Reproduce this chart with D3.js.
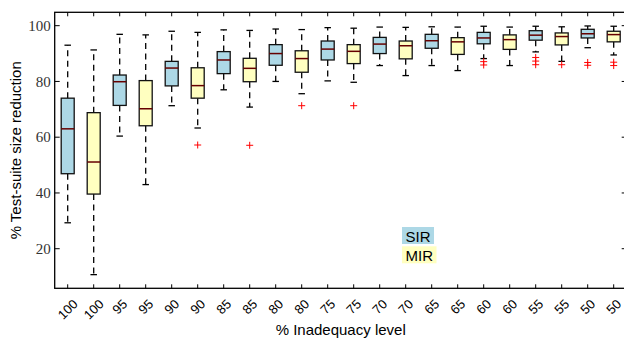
<!DOCTYPE html>
<html lang="en">
<head>
    <meta charset="UTF-8">
    <script type="text/javascript" src="https://d3js.org/d3.v7.min.js"></script>
    <style>
    html,
    body {
        margin: 0;
        background: #fff;
    }
    svg {
        display: block;
    }
    .sans {
        font-family: "Liberation Sans", Arial, sans-serif;
    }
    </style>
    <title>Test-suite size reduction</title>
</head>
<body>

    <div id="chart"></div>

    <script type="text/javascript">

    // data
    var levels = ["100", "100", "95", "95", "90", "90", "85", "85", "80", "80", "75", "75",
                  "70", "70", "65", "65", "60", "60", "55", "55", "50", "50"];
    var groups = ["SIR", "MIR", "SIR", "MIR", "SIR", "MIR", "SIR", "MIR", "SIR", "MIR", "SIR", "MIR",
                  "SIR", "MIR", "SIR", "MIR", "SIR", "MIR", "SIR", "MIR", "SIR", "MIR"];
    var whiskLo = [29.3, 10.7, 60.4, 43.0, 71.3, 63.3, 77.0, 70.8, 80.0, 75.6, 80.2, 79.7,
                   85.7, 82.1, 85.7, 83.9, 88.2, 85.7, 90.6, 87.2, 92.1, 89.5];
    var q1 = [46.9, 39.6, 71.4, 64.1, 78.4, 74.0, 82.8, 79.9, 85.8, 83.3, 87.7, 86.4,
              90.0, 88.1, 91.9, 89.7, 93.5, 91.5, 94.8, 93.1, 95.6, 94.2];
    var medians = [63.0, 51.1, 79.9, 70.2, 84.8, 78.5, 87.7, 84.7, 90.0, 88.2, 91.6, 90.8,
                   93.4, 92.8, 94.6, 94.2, 95.6, 95.0, 96.6, 96.1, 97.1, 96.8];
    var q3 = [74.0, 68.8, 82.3, 80.3, 87.2, 84.9, 90.7, 88.3, 93.2, 91.0, 94.5, 93.2,
              95.8, 94.5, 96.9, 95.7, 97.6, 96.7, 98.2, 97.4, 98.7, 98.0];
    var whiskHi = [93.0, 91.3, 96.9, 96.7, 98.0, 97.6, 98.5, 98.3, 98.8, 98.6, 99.3, 99.1,
                   99.5, 99.4, 99.6, 99.5, 99.8, 99.5, 99.8, 99.6, 99.9, 99.8];
    var outliers = [[], [], [], [], [], [57.2], [], [57.1], [], [71.3], [], [71.3],
                    [], [], [], [], [87.1, 85.9], [], [88.6, 87.3, 86.0], [86.0], [86.8, 85.8], [86.9, 85.7]];
    var yTicks = [20, 40, 60, 80, 100];
    var legendItems = ["SIR", "MIR"];

    var fills = { SIR: "#add8e6", MIR: "#ffffc0" };

    var width = 624, height = 339;
    var plotL = 54.7, plotR = 626.7, plotT = 12.3, plotB = 288.3;

    var svg = d3.select("#chart").append("svg")
        .attr("width", width)
        .attr("height", height);

    var positions = d3.range(1, levels.length + 1);

    var x = d3.scaleLinear().domain([0.5, levels.length + 0.5]).range([plotL, plotR]);
    var y = d3.scaleLinear().domain([5.8, 104.8]).range([plotB, plotT]);

    var boxW = x(1.5) - x(1);
    var capW = boxW / 2;

    var boxes = positions.map(function (p, i) {
        return {
            pos: p, group: groups[i], lo: whiskLo[i], q1: q1[i], med: medians[i],
            q3: q3[i], hi: whiskHi[i], out: outliers[i]
        };
    });

    var g = svg.append("g");

    // whiskers (dashed)
    g.selectAll("line.whisk-lo")
        .data(boxes).enter().append("line")
        .attr("x1", function (d) { return x(d.pos); })
        .attr("x2", function (d) { return x(d.pos); })
        .attr("y1", function (d) { return y(d.q1); })
        .attr("y2", function (d) { return y(d.lo); })
        .attr("stroke", "#000").attr("stroke-width", 1.3)
        .attr("stroke-dasharray", "6,4.5");

    g.selectAll("line.whisk-hi")
        .data(boxes).enter().append("line")
        .attr("x1", function (d) { return x(d.pos); })
        .attr("x2", function (d) { return x(d.pos); })
        .attr("y1", function (d) { return y(d.q3); })
        .attr("y2", function (d) { return y(d.hi); })
        .attr("stroke", "#000").attr("stroke-width", 1.3)
        .attr("stroke-dasharray", "6,4.5");

    // caps
    ["lo", "hi"].forEach(function (k) {
        g.selectAll("line.cap-" + k)
            .data(boxes).enter().append("line")
            .attr("x1", function (d) { return x(d.pos) - capW / 2; })
            .attr("x2", function (d) { return x(d.pos) + capW / 2; })
            .attr("y1", function (d) { return y(d[k]); })
            .attr("y2", function (d) { return y(d[k]); })
            .attr("stroke", "#000").attr("stroke-width", 1.3);
    });

    // boxes
    g.selectAll("rect.box")
        .data(boxes).enter().append("rect")
        .attr("x", function (d) { return x(d.pos) - boxW / 2; })
        .attr("y", function (d) { return y(d.q3); })
        .attr("width", boxW)
        .attr("height", function (d) { return y(d.q1) - y(d.q3); })
        .attr("fill", function (d) { return fills[d.group]; })
        .attr("stroke", "#111").attr("stroke-width", 1.3);

    // medians
    g.selectAll("line.median")
        .data(boxes).enter().append("line")
        .attr("x1", function (d) { return x(d.pos) - boxW / 2; })
        .attr("x2", function (d) { return x(d.pos) + boxW / 2; })
        .attr("y1", function (d) { return y(d.med); })
        .attr("y2", function (d) { return y(d.med); })
        .attr("stroke", "#660000").attr("stroke-width", 1.5);

    // outliers as red pluses
    var flier = [];
    boxes.forEach(function (d) {
        d.out.forEach(function (v) { flier.push({ pos: d.pos, v: v }); });
    });
    g.selectAll("path.flier")
        .data(flier).enter().append("path")
        .attr("d", function (d) {
            var cx = x(d.pos), cy = y(d.v), r = 3.5;
            return "M" + (cx - r) + "," + cy + "H" + (cx + r) + "M" + cx + "," + (cy - r) + "V" + (cy + r);
        })
        .attr("stroke", "#ff0000").attr("stroke-width", 1).attr("fill", "none");

    // frame
    svg.append("rect")
        .attr("x", plotL).attr("y", plotT)
        .attr("width", plotR - plotL).attr("height", plotB - plotT)
        .attr("fill", "none").attr("stroke", "#000").attr("stroke-width", 1.3);

    // inward ticks
    var tk = svg.append("g").attr("stroke", "#000").attr("stroke-width", 1);
    yTicks.forEach(function (t) {
        tk.append("line").attr("x1", plotL).attr("x2", plotL + 5).attr("y1", y(t)).attr("y2", y(t));
        tk.append("line").attr("x1", plotR - 5).attr("x2", plotR).attr("y1", y(t)).attr("y2", y(t));
    });
    positions.forEach(function (p) {
        tk.append("line").attr("x1", x(p)).attr("x2", x(p)).attr("y1", plotB).attr("y2", plotB - 4);
        tk.append("line").attr("x1", x(p)).attr("x2", x(p)).attr("y1", plotT).attr("y2", plotT + 4);
    });

    // y tick labels
    svg.selectAll("text.ytick")
        .data(yTicks).enter().append("text")
        .attr("x", plotL - 4)
        .attr("y", function (d) { return y(d); })
        .attr("dy", "0.34em")
        .attr("text-anchor", "end")
        .attr("font-family", "'Liberation Serif', 'Times New Roman', serif")
        .attr("font-size", 15)
        .attr("fill", "#333")
        .text(function (d) { return d; });

    // x tick labels, rotated 45deg and centred under the tick
    svg.selectAll("text.xtick")
        .data(positions).enter().append("text")
        .attr("class", "sans")
        .attr("font-size", 13)
        .attr("text-anchor", "middle")
        .attr("dy", "0.35em")
        .text(function (d, i) { return levels[i]; })
        .each(function (d) {
            var len = this.getComputedTextLength();
            var h = 9.5;
            var bh = (len + h) / Math.SQRT2;
            var cx = x(d), cy = plotB + 10 + bh / 2;
            d3.select(this)
                .attr("x", cx).attr("y", cy)
                .attr("transform", "rotate(-45," + cx + "," + cy + ")");
        });

    // axis titles
    svg.append("text")
        .attr("class", "sans")
        .attr("x", (plotL + plotR) / 2)
        .attr("y", 335)
        .attr("text-anchor", "middle")
        .attr("font-size", 15)
        .text("% Inadequacy level");

    svg.append("text")
        .attr("class", "sans")
        .attr("transform", "translate(21," + ((plotT + plotB) / 2) + ") rotate(-90)")
        .attr("text-anchor", "middle")
        .attr("font-size", 15)
        .text("% Test-suite size reduction");

    // legend
    var lg = svg.append("g").attr("transform", "translate(402,227)");
    legendItems.forEach(function (name, i) {
        var item = lg.append("g").attr("transform", "translate(0," + (i * 19.3) + ")");
        var t = item.append("text")
            .attr("class", "sans")
            .attr("x", 3.5).attr("y", 14.5)
            .attr("font-size", 15)
            .text(name);
        var w = t.node().getComputedTextLength() + 7;
        item.insert("rect", "text")
            .attr("x", 0).attr("y", 0)
            .attr("width", w).attr("height", 17)
            .attr("fill", fills[name]);
    });

    </script>
</body>
</html>
